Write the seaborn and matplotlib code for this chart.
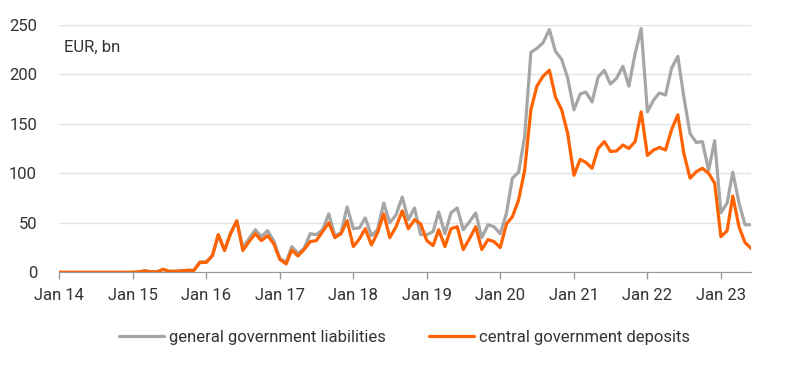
import matplotlib
matplotlib.use("Agg")
import matplotlib.pyplot as plt
import matplotlib.dates as mdates
import seaborn as sns
import pandas as pd

# monthly values, Jan 2014 - Jun 2023, EUR bn
months = pd.date_range("2014-01-01", "2023-06-01", freq="MS")

central_deposits = [
    0, 0, 0, 0, 0, 0, 0, 0, 0, 0, 0, 0,
    0, 0.5, 1.5, 0.5, 0.5, 3, 1, 1, 1.5, 2, 2, 10,
    10, 17, 38, 22, 39, 52, 22, 31, 39, 32, 37, 29,
    13, 8.5, 22.5, 16.5, 23, 31, 32, 41, 50, 35, 39, 52,
    26, 34, 44, 27.6, 40, 59, 35, 46, 62, 44, 53, 49,
    32, 27, 43, 26, 44, 46, 23, 34, 46, 23, 33, 31,
    25, 49, 56, 73, 103, 164, 188, 198, 204, 177, 164, 140,
    98, 114, 111, 105, 125, 132, 122, 122.5, 128.5, 125, 132, 162,
    118, 123.5, 126, 123.5, 144, 159, 120, 95, 101.6, 105, 100, 90,
    36, 42, 77, 46, 30, 24,
]

gen_gov_liabilities = [
    0, 0, 0, 0, 0, 0, 0, 0, 0, 0, 0, 0,
    0, 0.5, 1.5, 0.5, 0.5, 3, 1, 1, 1.5, 2, 2, 10.5,
    10.5, 17, 38, 22.5, 40, 52, 25, 34, 43, 36, 42, 32,
    14, 10, 26, 19, 24, 39, 38, 43, 59, 37, 40, 66,
    44, 45, 55, 37, 43, 70, 50, 58, 76, 53, 65, 38,
    38, 41, 61, 39, 60, 65, 43, 51, 60, 35, 48, 46,
    39, 60, 95, 101, 137, 222, 226, 232, 245, 223, 215, 196,
    164, 180, 182, 172, 197, 204, 190, 196, 208, 188, 221, 246,
    162, 174, 181, 179, 206, 218, 177, 140, 131, 132, 103, 133,
    60, 70, 101, 70, 48, 48,
]

series_names = ["general government liabilities", "central government deposits"]
colors = ["#a6a6a6", "#ff6200"]

df = pd.DataFrame({
    "month": list(months) * 2,
    "value": gen_gov_liabilities + central_deposits,
    "series": [series_names[0]] * len(months) + [series_names[1]] * len(months),
})

sns.set_style("white")
plt.rcParams["font.family"] = ["Roboto", "DejaVu Sans"]
text_col = "#333333"

fig = plt.figure(figsize=(8, 3.68), dpi=100)
ax = fig.add_axes([0.0741, 0.26, 0.865, 0.673])

sns.lineplot(data=df, x="month", y="value", hue="series", hue_order=series_names,
             palette=colors, linewidth=2.3, ax=ax, legend=False)

ax.set_xlim(months[0], months[-1])
ax.set_ylim(0, 250)
ax.set_yticks([0, 50, 100, 150, 200, 250])
ax.yaxis.grid(True, color="#e3e3e3", linewidth=1)
ax.set_axisbelow(True)

ax.xaxis.set_major_locator(mdates.YearLocator())
ax.xaxis.set_major_formatter(mdates.DateFormatter("Jan %y"))
ax.set_xlabel("")
ax.set_ylabel("")

for side in ["top", "right", "left"]:
    ax.spines[side].set_visible(False)
ax.spines["bottom"].set_color("#999999")
ax.tick_params(axis="x", length=5, width=1, color="#999999", pad=6,
               labelsize=12, labelcolor=text_col, bottom=True)
ax.tick_params(axis="y", length=0, pad=16, labelsize=12, labelcolor=text_col)

ax.text(0.007, 0.907, "EUR, bn", transform=ax.transAxes, fontsize=12,
        color=text_col, va="center", ha="left")

handles = [plt.Line2D([], [], color=c, linewidth=2.3) for c in colors]
fig.legend(handles, series_names, loc="center", bbox_to_anchor=(0.506, 0.084),
           ncol=2, frameon=False, fontsize=12, handlelength=2.7,
           handletextpad=0.3, columnspacing=2.6, labelcolor=text_col)

fig.savefig("out.png", dpi=100)
